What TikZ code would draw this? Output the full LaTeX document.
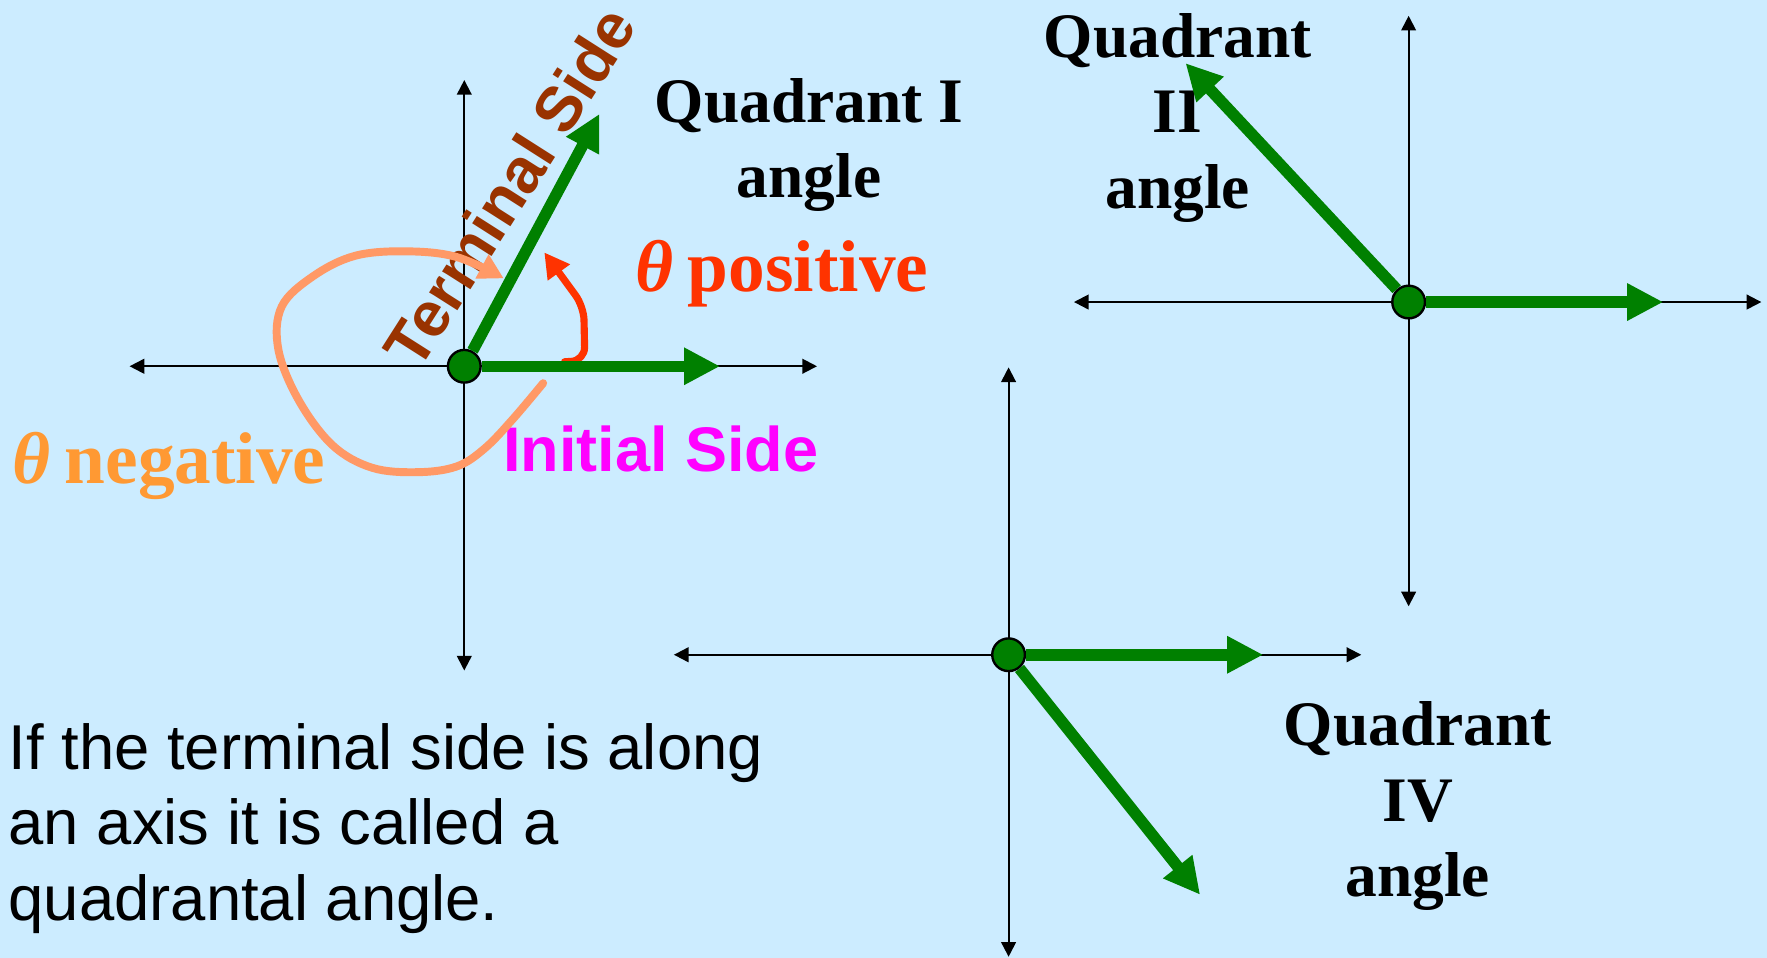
\documentclass[tikz,border=0pt]{standalone}
\usepackage{fontspec}
\setmainfont{Liberation Serif}
\setsansfont{Liberation Sans}
\usepackage{xcolor}
\usepackage{tikz}
\usetikzlibrary{arrows.meta}
\definecolor{bgblue}{HTML}{CCECFF}
\definecolor{sidegreen}{HTML}{008000}
\definecolor{termbrown}{HTML}{993300}
\definecolor{posred}{HTML}{FF3300}
\definecolor{negorange}{HTML}{FF9933}
\definecolor{looporange}{HTML}{FF9966}
\definecolor{initmagenta}{HTML}{FF00FF}

\begin{document}
\begin{tikzpicture}[
  x=0.01cm, y=-0.01cm,
  axis/.style={{Triangle[length=1.3mm,width=1.3mm]}-{Triangle[length=1.3mm,width=1.3mm]}, line width=0.5pt},
  side/.style={-{Triangle[length=3.2mm,width=3.1mm]}, line width=2.9pt, draw=sidegreen},
  dot/.style={circle, draw=black, fill=sidegreen, line width=0.6pt, minimum size=2.9mm, inner sep=0pt},
  quad/.style={font=\fontsize{16}{19.05}\selectfont\bfseries, align=center, inner sep=0pt, anchor=north},
  lbl/.style={inner sep=0pt, anchor=base west},
  turn/.style={-{Triangle[length=2.2mm,width=2.3mm]}, line width=#1, line cap=round, line join=round}
]
  % Background
  \fill[bgblue] (0,0) rectangle (1568,850);
  \useasboundingbox (0,0) rectangle (1568,850);
  % Origins and tips
  \coordinate (o1) at (412,325);
  \coordinate (o2) at (1250,268);
  \coordinate (o3) at (895,581);
  \coordinate (i1) at (639,325);
  \coordinate (t1) at (532,101);
  \coordinate (i2) at (1476,268);
  \coordinate (t2) at (1052,56);
  \coordinate (i3) at (1121,581);
  \coordinate (t3) at (1065,794);
  % Axes
  \draw[axis] (o1) ++(-297,0) -- ++(610,0);
  \draw[axis] (o1) ++(0,-254) -- ++(0,524);
  \draw[axis] (o2) ++(-297,0) -- ++(610,0);
  \draw[axis] (o2) ++(0,-254) -- ++(0,524);
  \draw[axis] (o3) ++(-297,0) -- ++(610,0);
  \draw[axis] (o3) ++(0,-255) -- ++(0,523);
  % Labels
  \node[rotate=57.5, text=termbrown, font=\sffamily\bfseries\fontsize{16}{19}\selectfont] (term) at (452,166) {Terminal Side};
  \node[lbl, text=initmagenta, font=\sffamily\bfseries\fontsize{15.9}{19}\selectfont] (init) at (446,418.5) {Initial Side};
  \node[lbl, text=posred, font=\fontsize{18.5}{22}\selectfont\bfseries] (pos) at (563,259) {\textit{θ}\hspace{0.2em}positive};
  \node[lbl, text=negorange, font=\fontsize{18.5}{22}\selectfont\bfseries] (neg) at (10,428.6) {\textit{θ}\hspace{0.2em}negative};
  \node[quad] (q1) at (718,68.5) {Quadrant I\\angle};
  \node[quad] (q2) at (1045,11) {Quadrant\\II\\angle};
  \node[quad] (q4) at (1258,622) {Quadrant\\IV\\angle};
  \node[anchor=north west, inner sep=0pt, align=left, font=\sffamily\fontsize{16}{19.05}\selectfont] (note) at (7,641)
    {If the terminal side is along\\an axis it is called a\\quadrantal angle.};
  % Turning arrows
  \draw[turn=2pt, draw=looporange] plot[smooth, tension=0.6] coordinates {
    (482,340) (455,372) (430,398) (405,414) (370,419) (330,415) (295,395) (265,355)
    (247,310) (250,272) (278,245) (315,227) (360,223) (405,228) (447,247)};
  \draw[turn=1.8pt, draw=posred, rounded corners=1.2mm] (501,321) -- (519,320) -- (518,272) -- (483,224);
  % Sides
  \node[dot] (d1) at (o1) {};
  \node[dot] (d2) at (o2) {};
  \node[dot] (d3) at (o3) {};
  \draw[side] (d1) -- (i1);
  \draw[side] (d1) -- (t1);
  \draw[side] (d2) -- (i2);
  \draw[side] (d2) -- (t2);
  \draw[side] (d3) -- (i3);
  \draw[side] (d3) -- (t3);
\end{tikzpicture}
\end{document}
